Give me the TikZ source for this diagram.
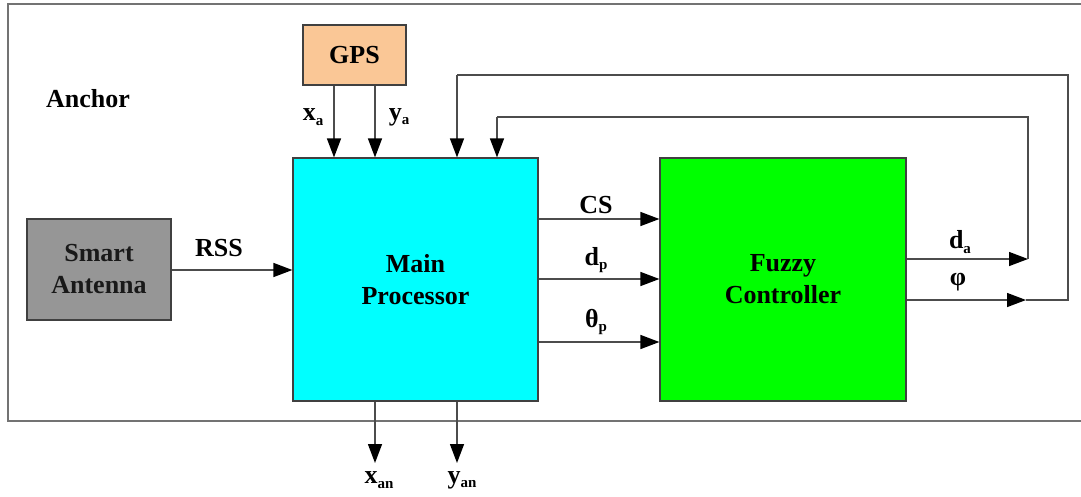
\documentclass[tikz,border=0pt]{standalone}
\usepackage{fontspec}
\setmainfont{Liberation Serif}
\usetikzlibrary{arrows.meta}
\newcommand{\sbs}[1]{\raisebox{-0.4ex}{\fontsize{15}{15}\selectfont #1}}
\begin{document}
\begin{tikzpicture}[x=1pt,y=-1pt,
  every node/.style={font=\fontsize{26}{32}\selectfont\bfseries},
  blockbox/.style={draw=black!75,line width=1.2pt,inner sep=0pt,align=center},
  lbl/.style={inner sep=0pt,anchor=center},
  wire/.style={draw=black!70,line width=1.4pt},
  arr/.style={wire,-{Triangle[length=19pt,width=14pt,color=black]}}]
\useasboundingbox (0,0) rectangle (1081,496);
\fill[white] (0,0) rectangle (1081,496);
\begin{scope}
\clip (0,0) rectangle (1081,496);
\draw[draw=black!55,line width=2.8pt] (8,4) rectangle (1100,421);
\end{scope}
\node[blockbox,fill={rgb,255:red,250;green,199;blue,150},minimum width=103pt,minimum height=60pt] (gps) at (354.5,55) {GPS};
\node[blockbox,fill={rgb,255:red,0;green,255;blue,255},minimum width=245pt,minimum height=243pt] (main) at (415.5,279.5) {Main\\Processor};
\node[blockbox,fill={rgb,255:red,0;green,255;blue,0},minimum width=246pt,minimum height=243pt] (fuzzy) at (783,279.5) {Fuzzy\\Controller};
\node[blockbox,fill={rgb,255:red,150;green,150;blue,150},minimum width=144pt,minimum height=101pt,text=black!90] (ant) at (99,269.5) {Smart\\Antenna};
\node[lbl] (anchorlbl) at (88,99) {Anchor};
% coordinates for x positions
\coordinate (cxa) at (334,0);
\coordinate (cya) at (375,0);
\coordinate (cfo) at (457,0);
\coordinate (cfi) at (497,0);
\coordinate (cxan) at (375,0);
\coordinate (cyan) at (457,0);
\coordinate (ycs) at (0,219);
\coordinate (ydp) at (0,279);
\coordinate (ytp) at (0,342);
\coordinate (yda) at (0,259);
\coordinate (yphi) at (0,300);
\coordinate (yrss) at (0,270);
\coordinate (dacorner) at (1028,259);
\coordinate (phiend) at (1026,300);
\coordinate (phicorner) at (1068,300);
\coordinate (outertop) at (1068,75);
\coordinate (innertop) at (1028,117);
\coordinate (xanend) at (375,463);
\coordinate (yanend) at (457,463);
% GPS arrows
\draw[arr] (cxa |- gps.south) -- (cxa |- main.north);
\draw[arr] (cya |- gps.south) -- (cya |- main.north);
% antenna
\draw[arr] (ant.east |- yrss) -- (main.west |- yrss);
% main to fuzzy
\draw[arr] (main.east |- ycs) -- (fuzzy.west |- ycs);
\draw[arr] (main.east |- ydp) -- (fuzzy.west |- ydp);
\draw[arr] (main.east |- ytp) -- (fuzzy.west |- ytp);
% outputs
\draw[arr] (fuzzy.east |- yda) -- (dacorner);
\draw[wire] (dacorner) -- (innertop) -- (cfi |- innertop);
\draw[arr] (cfi |- innertop) -- (cfi |- main.north);
\draw[arr] (fuzzy.east |- yphi) -- (phiend);
\draw[wire] (phiend) -- (phicorner) -- (outertop) -- (cfo |- outertop);
\draw[arr] (cfo |- outertop) -- (cfo |- main.north);
% bottom outputs
\draw[arr] (cxan |- main.south) -- (xanend);
\draw[arr] (cyan |- main.south) -- (yanend);
% labels
\node[lbl] (lxa) at (313,117) {x\sbs{a}};
\node[lbl] (lya) at (399,117) {y\sbs{a}};
\node[lbl] (lrss) at (219,248) {RSS};
\node[lbl] (lcs) at (596,205) {CS};
\node[lbl] (ldp) at (596,260) {d\sbs{p}};
\node[lbl] (ltp) at (596,322) {θ\sbs{p}};
\node[lbl] (lda) at (960,242) {d\sbs{a}};
\node[lbl] (lphi) at (958,282) {φ};
\node[lbl] (lxan) at (379,480) {x\sbs{an}};
\node[lbl] (lyan) at (462,480) {y\sbs{an}};
\end{tikzpicture}
\end{document}
